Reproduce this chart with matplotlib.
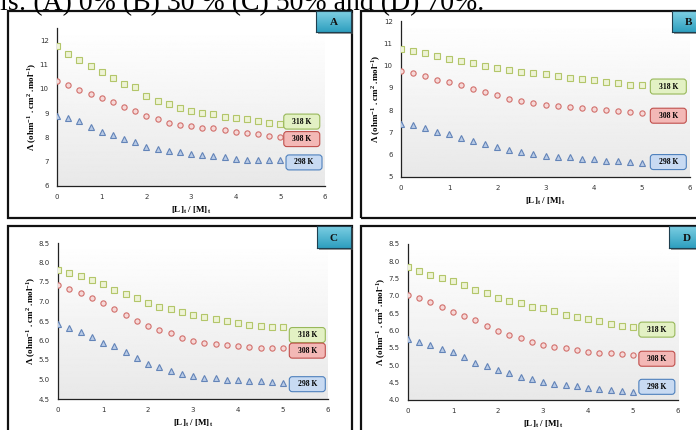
import numpy as np
import matplotlib
matplotlib.use("Agg")
import matplotlib.pyplot as plt
import matplotlib.transforms as mtransforms
from matplotlib.patches import FancyBboxPatch, Rectangle
from matplotlib.colors import LinearSegmentedColormap

plt.rcParams['mathtext.fontset'] = 'custom'
plt.rcParams['mathtext.rm'] = 'Liberation Serif'
plt.rcParams['mathtext.bf'] = 'Liberation Serif:bold'

# ---------------- data ----------------
x_ratio = [0, 0.25, 0.5, 0.75, 1.0, 1.25, 1.5, 1.75, 2.0, 2.25, 2.5,
           2.75, 3.0, 3.25, 3.5, 3.75, 4.0, 4.25, 4.5, 4.75, 5.0]

A_318 = [11.74, 11.42, 11.19, 10.93, 10.68, 10.46, 10.20, 10.06, 9.72, 9.51, 9.36,
         9.22, 9.10, 9.02, 8.95, 8.85, 8.79, 8.74, 8.66, 8.58, 8.55]
A_308 = [10.32, 10.15, 9.96, 9.78, 9.62, 9.45, 9.27, 9.10, 8.90, 8.75, 8.60,
         8.52, 8.45, 8.40, 8.37, 8.30, 8.23, 8.18, 8.12, 8.06, 8.00]
A_298 = [8.90, 8.79, 8.66, 8.42, 8.23, 8.09, 7.95, 7.79, 7.62, 7.52, 7.45,
         7.39, 7.33, 7.28, 7.24, 7.19, 7.10, 7.09, 7.09, 7.07, 7.06]

B_318 = [10.73, 10.65, 10.58, 10.45, 10.31, 10.22, 10.12, 9.98, 9.89, 9.80, 9.71,
         9.65, 9.60, 9.53, 9.44, 9.40, 9.34, 9.28, 9.22, 9.15, 9.12]
B_308 = [9.76, 9.65, 9.52, 9.37, 9.25, 9.12, 8.95, 8.83, 8.70, 8.50, 8.41,
         8.32, 8.25, 8.20, 8.14, 8.10, 8.05, 7.99, 7.95, 7.90, 7.87]
B_298 = [7.40, 7.32, 7.20, 7.03, 6.92, 6.73, 6.62, 6.48, 6.34, 6.20, 6.10,
         6.02, 5.95, 5.89, 5.88, 5.82, 5.79, 5.74, 5.70, 5.67, 5.64]

C_318 = [7.82, 7.74, 7.65, 7.54, 7.44, 7.30, 7.20, 7.10, 6.97, 6.86, 6.80,
         6.73, 6.65, 6.60, 6.56, 6.50, 6.45, 6.41, 6.38, 6.35, 6.35]
C_308 = [7.43, 7.32, 7.22, 7.10, 6.97, 6.80, 6.65, 6.50, 6.38, 6.28, 6.18,
         6.07, 5.99, 5.94, 5.91, 5.88, 5.86, 5.83, 5.82, 5.82, 5.81]
C_298 = [6.43, 6.33, 6.21, 6.09, 5.94, 5.85, 5.70, 5.56, 5.39, 5.32, 5.22,
         5.14, 5.10, 5.05, 5.03, 5.00, 4.98, 4.96, 4.95, 4.94, 4.92]

D_318 = [7.83, 7.71, 7.62, 7.52, 7.42, 7.31, 7.18, 7.08, 6.93, 6.87, 6.79,
         6.69, 6.64, 6.56, 6.46, 6.39, 6.33, 6.27, 6.19, 6.13, 6.10]
D_308 = [7.04, 6.94, 6.82, 6.68, 6.53, 6.42, 6.31, 6.13, 5.98, 5.88, 5.78,
         5.67, 5.59, 5.54, 5.50, 5.43, 5.39, 5.37, 5.35, 5.33, 5.31]
D_298 = [5.75, 5.67, 5.58, 5.46, 5.38, 5.23, 5.08, 4.99, 4.87, 4.78, 4.67,
         4.60, 4.52, 4.46, 4.42, 4.39, 4.34, 4.32, 4.28, 4.26, 4.24]

series_labels = ['318 K', '308 K', '298 K']
panel_letters = ['A', 'B', 'C', 'D']
panel_data = {'A': [A_318, A_308, A_298], 'B': [B_318, B_308, B_298],
              'C': [C_318, C_308, C_298], 'D': [D_318, D_308, D_298]}
panel_ylim = {'A': (6, 12.5), 'B': (5, 12), 'C': (4.5, 8.5), 'D': (4.0, 8.5)}
panel_yticks = {'A': [6, 7, 8, 9, 10, 11, 12], 'B': [5, 6, 7, 8, 9, 10, 11, 12],
                'C': [4.5, 5.0, 5.5, 6.0, 6.5, 7.0, 7.5, 8.0, 8.5],
                'D': [4.0, 4.5, 5.0, 5.5, 6.0, 6.5, 7.0, 7.5, 8.0, 8.5]}
x_ticks = [0, 1, 2, 3, 4, 5, 6]
caption = 'is: (A) 0% (B) 30 % (C) 50% and (D) 70%.'

# label-box anchor positions (data coords) per panel
label_pos = {'A': [(5.48, 8.65), (5.48, 7.93), (5.53, 6.97)],
             'B': [(5.55, 9.06), (5.55, 7.75), (5.55, 5.67)],
             'C': [(5.54, 6.14), (5.54, 5.74), (5.54, 4.88)],
             'D': [(5.53, 6.03), (5.53, 5.19), (5.53, 4.38)]}

# ---------------- styles ----------------
W, H = 696, 430
fig = plt.figure(figsize=(W / 100, H / 100), dpi=100)

def fx(px):
    return px / W

def fy(py):
    return 1 - py / H

axes_px = {'A': (57, 325, 28, 186), 'B': (401, 690, 21, 177),
           'C': (58, 328, 243, 399), 'D': (408, 678, 244, 400)}
frames_px = {'A': (8, 352, 11, 218), 'B': (361, 702, 11, 218),
             'C': (8, 352, 226, 436), 'D': (361, 702, 226, 436)}
letter_px = {'A': (316, 351, 11, 32), 'B': (672, 705, 11, 32),
             'C': (317, 351, 226, 248), 'D': (669, 705, 226, 248)}

marker_styles = [dict(marker='s', mec='#b3c66a', mfc='#eef3d6'),
                 dict(marker='o', mec='#d2706c', mfc='#f6d9d8'),
                 dict(marker='^', mec='#6384b8', mfc='#b9cbe6')]
box_styles = [dict(fc='#e3f1c4', ec='#98b85a'),
              dict(fc='#f3b8b6', ec='#c0504d'),
              dict(fc='#c8daf2', ec='#4f81bd')]

# caption text (cut off at top, as in the source image)
fig.text(0.0, fy(10.5), caption, fontsize=20, family='Liberation Serif',
         ha='left', va='baseline')

grad = np.linspace(0.91, 1.0, 256).reshape(-1, 1)
grad = np.repeat(grad, 2, axis=1)
teal = LinearSegmentedColormap.from_list('teal', ['#2e9fbf', '#7fd0e4'])

for p in panel_letters:
    # outer frame
    l, r, t, b = frames_px[p]
    fig.add_artist(Rectangle((fx(l), fy(b)), fx(r) - fx(l), fy(t) - fy(b),
                             transform=fig.transFigure, fill=False,
                             ec='#111111', lw=1.6, zorder=0))

    l, r, t, b = axes_px[p]
    ax = fig.add_axes([fx(l), fy(b), fx(r) - fx(l), fy(t) - fy(b)])
    ax.set_facecolor('none')
    ax.imshow(grad, extent=[0, 1, 0, 1], transform=ax.transAxes, cmap='gray',
              vmin=0, vmax=1, aspect='auto', origin='lower', zorder=0)
    ax.set_xlim(0, 6)
    ax.set_ylim(*panel_ylim[p])
    ax.set_xticks(x_ticks)
    ax.set_yticks(panel_yticks[p])
    if p in ('C', 'D'):
        ax.set_yticklabels(['%.1f' % v for v in panel_yticks[p]])
    for s in ('top', 'right'):
        ax.spines[s].set_visible(False)
    for s in ('left', 'bottom'):
        ax.spines[s].set_color('#222222')
        ax.spines[s].set_linewidth(0.9)
    ax.tick_params(length=0, labelsize=5, colors='#333333', pad=6)
    ax.tick_params(axis='y', pad=6)

    for vals, ms in zip(panel_data[p], marker_styles):
        ax.plot(x_ratio, vals, ls='none', ms=3.8, mew=0.8, zorder=3, **ms)

    ax.set_xlabel(r'[L]$_\mathbf{t}$ / [M]$_\mathbf{t}$', fontsize=6.5,
                  fontweight='bold', family='Liberation Serif', labelpad=3)
    ax.set_ylabel(r'$\mathbf{\Lambda}$ (ohm$^{\mathbf{-1}}$ . cm$^{\mathbf{2}}$ .mol$^{\mathbf{-1}}$)',
                  fontsize=6.5, fontweight='bold', family='Liberation Serif',
                  labelpad=0.5)

    # series label boxes
    for (lx, ly), lab, bs in zip(label_pos[p], series_labels, box_styles):
        trans = fig.dpi_scale_trans + mtransforms.ScaledTranslation(lx, ly, ax.transData)
        box = FancyBboxPatch((-0.18, -0.075), 0.36, 0.15,
                             boxstyle='round,pad=0,rounding_size=0.03',
                             transform=trans, lw=0.8, zorder=5, clip_on=False, **bs)
        ax.add_artist(box)
        ax.text(0, 0, lab, transform=trans, ha='center', va='center',
                fontsize=5.5, fontweight='bold', family='Liberation Serif',
                zorder=6, clip_on=False)

    # letter box with shadow
    l, r, t, b = letter_px[p]
    fig.add_artist(Rectangle((fx(l + 2), fy(b + 2)), fx(r) - fx(l), fy(t) - fy(b),
                             transform=fig.transFigure, fc='#555555', ec='none',
                             alpha=0.6, zorder=8))
    lax = fig.add_axes([fx(l), fy(b), fx(r) - fx(l), fy(t) - fy(b)], zorder=9)
    tg = np.repeat(np.linspace(0, 1, 64).reshape(-1, 1), 2, axis=1)
    lax.imshow(tg, extent=[0, 1, 0, 1], cmap=teal, aspect='auto', origin='lower')
    lax.set_xlim(0, 1)
    lax.set_ylim(0, 1)
    lax.set_xticks([])
    lax.set_yticks([])
    for s in lax.spines.values():
        s.set_color('#1f3f4f')
        s.set_linewidth(0.8)
    lax.text(0.5, 0.45, p, ha='center', va='center', fontsize=8,
             fontweight='bold', family='Liberation Serif', color='#111111')

fig.savefig('out.png', dpi=100)
